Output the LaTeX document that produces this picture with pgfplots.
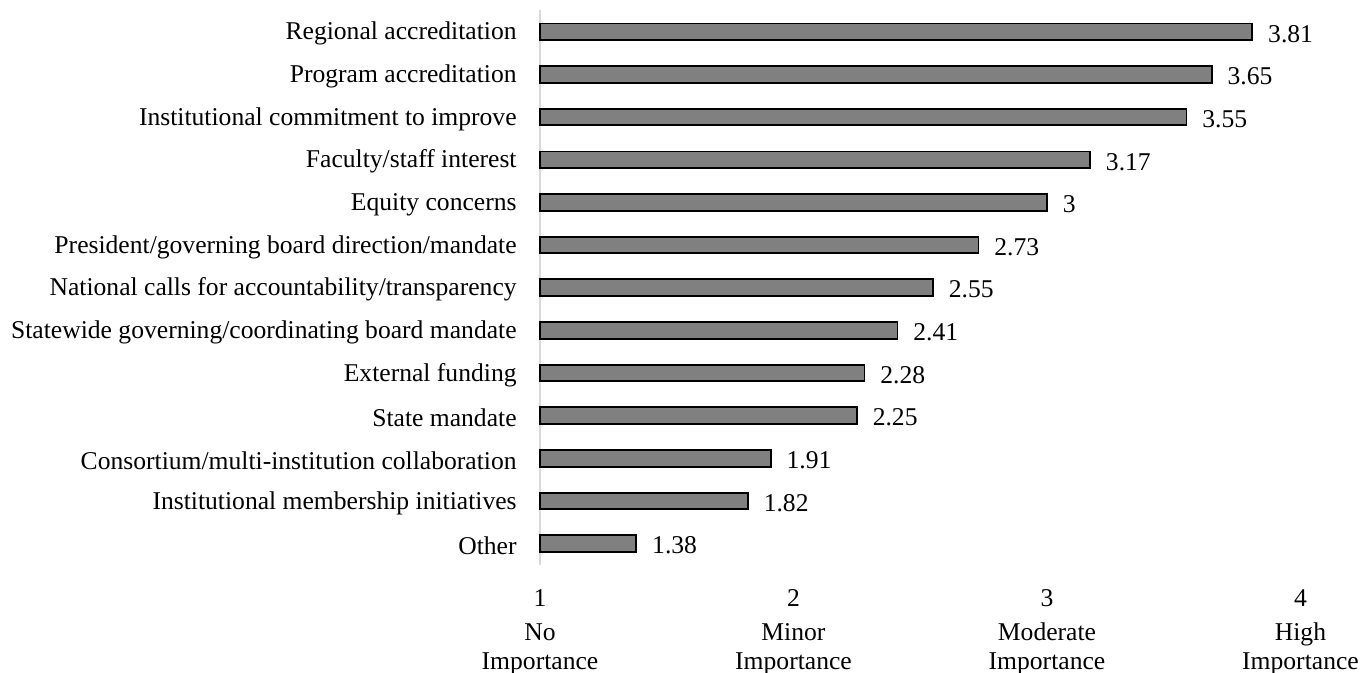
\documentclass[border=0pt]{standalone}
\usepackage{fontspec}
\setmainfont{Liberation Serif}
\usepackage{pgfplots}
\pgfplotsset{compat=1.18}
\usepackage{pgfplotstable}
\definecolor{barfill}{HTML}{808080}
\definecolor{axisgray}{HTML}{D9D9D9}

\pgfplotstableread{
idx val
0 1.38
1 1.82
2 1.91
3 2.25
4 2.28
5 2.41
6 2.55
7 2.73
8 3.00
9 3.17
10 3.55
11 3.65
12 3.81
}\data

\begin{document}
\begin{tikzpicture}[font=\fontsize{12.8}{14.5}\selectfont]
\path[use as bounding box] (-270pt,-54pt) rectangle (413pt,282.5pt);
\begin{axis}[
  at={(0,0)}, anchor=south west,
  scale only axis, width=380.25pt, height=277.3pt,
  xmin=0, xmax=3, ymin=-0.5, ymax=12.5,
  xbar, bar width=8.3pt,
  axis line style={draw=none},
  major tick length=0pt, tick style={draw=none},
  xtick={0,1,2,3},
  xticklabels={{1\\[2.5pt]No\\Importance},{2\\[2.5pt]Minor\\Importance},{3\\[2.5pt]Moderate\\Importance},{4\\[2.5pt]High\\Importance}},
  xticklabel style={align=center, inner sep=0pt, yshift=-12pt},
  ytick={0,...,12},
  yticklabels={Other, Institutional membership initiatives, Consortium/multi-institution collaboration, State mandate, External funding, Statewide governing/coordinating board mandate, National calls for accountability/transparency, President/governing board direction/mandate, Equity concerns, Faculty/staff interest, Institutional commitment to improve, Program accreditation, Regional accreditation},
  yticklabel style={inner sep=0pt, xshift=-11.5pt, yshift=-1pt},
  nodes near coords={\pgfmathprintnumber[assume math mode=true]{\pgfplotspointmeta}},
  nodes near coords style={anchor=west, inner sep=0pt, xshift=7.5pt, yshift=-1pt},
  clip=false,
]
\draw[axisgray, line width=1pt] (rel axis cs:0,0) -- (rel axis cs:0,1);
\addplot[fill=barfill, draw=black, line width=0.9pt, point meta=explicit] table[x expr=\thisrow{val}-1, y=idx, meta=val]{\data};
\end{axis}
\end{tikzpicture}
\end{document}
